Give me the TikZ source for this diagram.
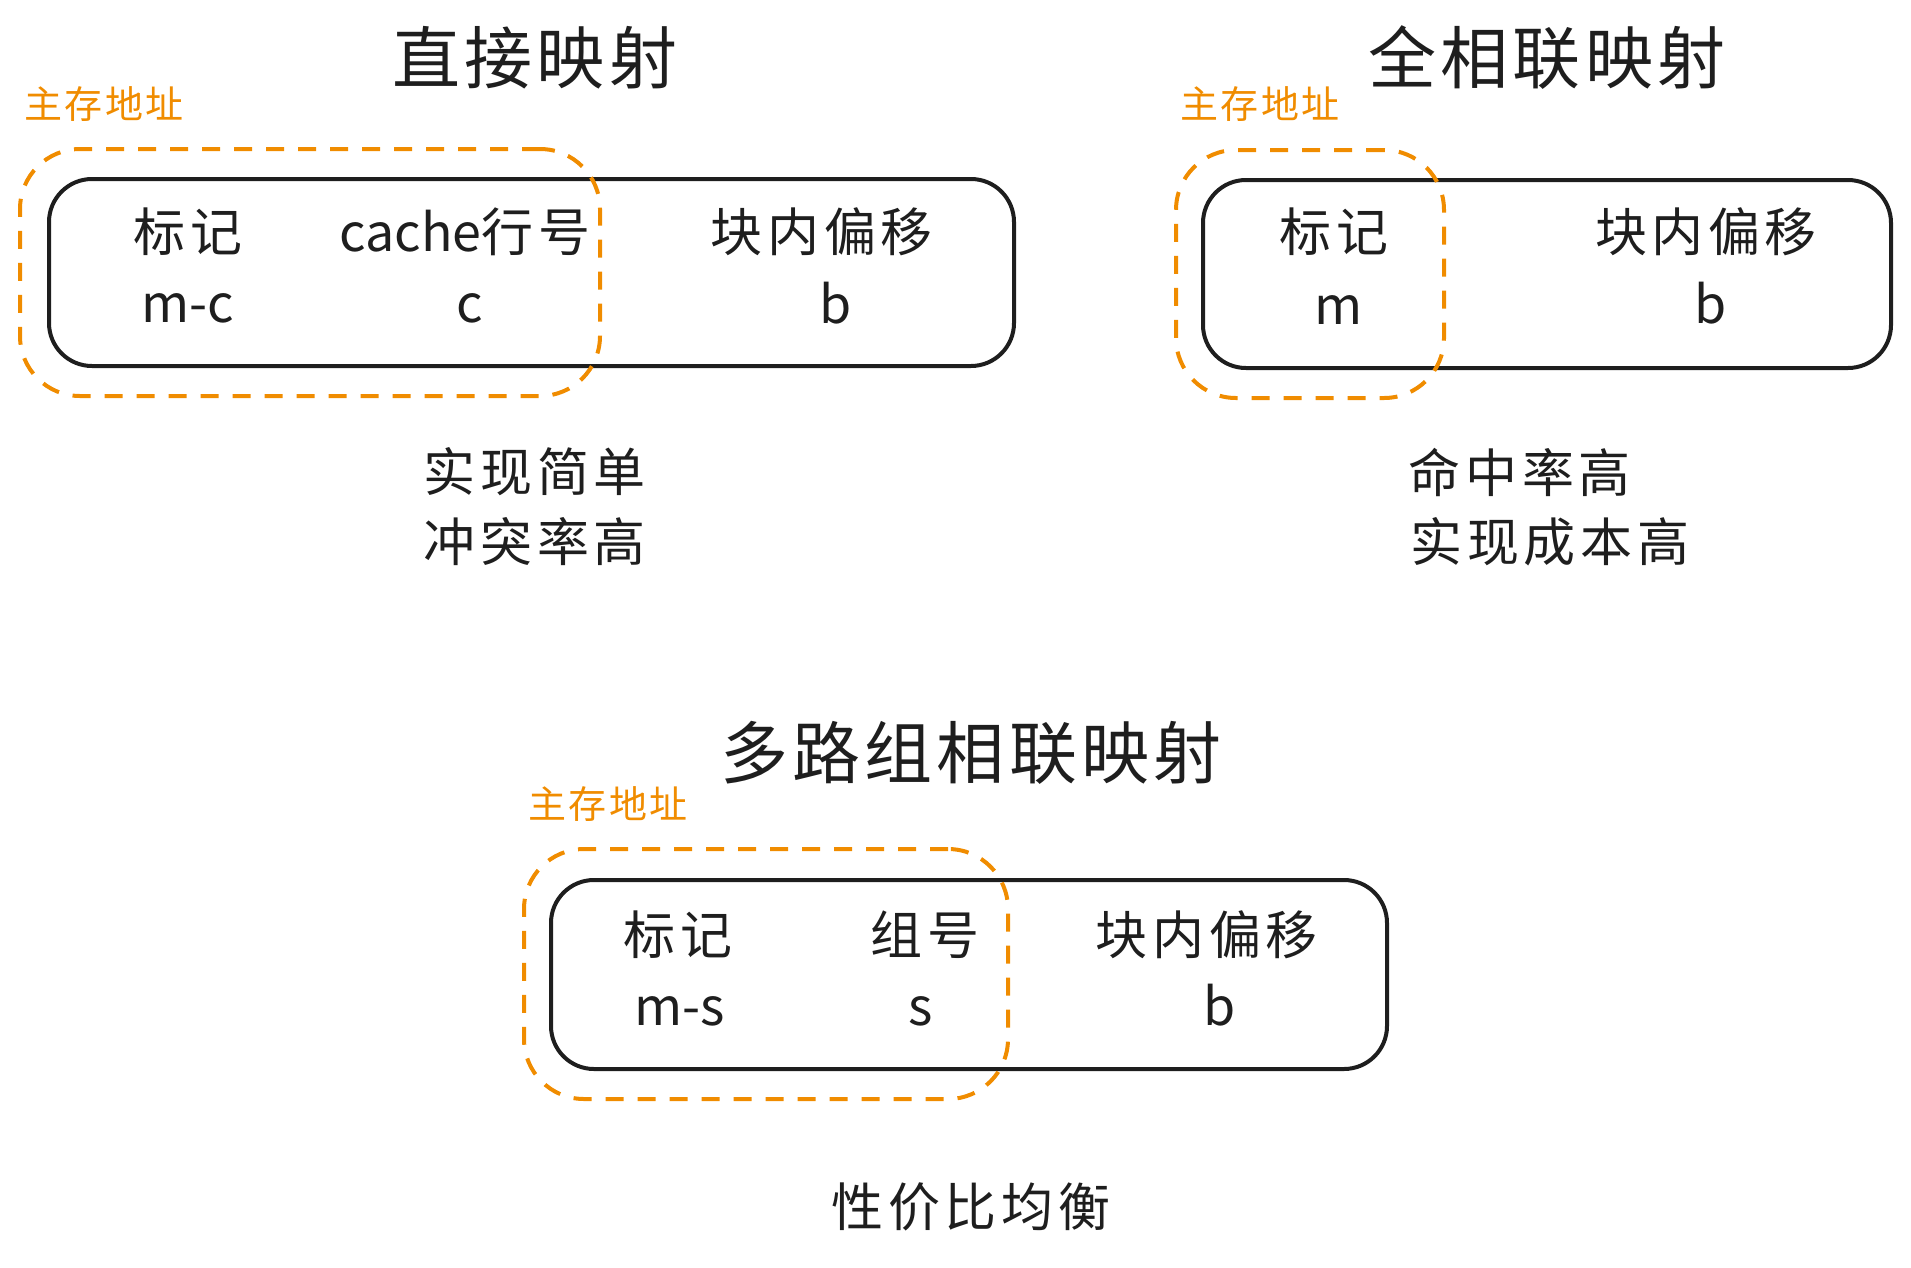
\documentclass[tikz,border=0pt]{standalone}
\usepackage{fontspec}
\setmainfont{Noto Sans CJK SC}
\newfontfamily\cjkspaced[LetterSpace=9]{Noto Sans CJK SC}
\newfontfamily\cjktitle[LetterSpace=6]{Noto Sans CJK SC}
\definecolor{exorange}{HTML}{F08C00}
\definecolor{exblack}{HTML}{1E1E1E}
\tikzset{
  title/.style={font=\cjktitle\fontsize{68}{72}\selectfont, text=exblack, inner sep=0pt},
  field/.style={font=\cjkspaced\fontsize{52}{56}\selectfont, text=exblack, inner sep=0pt},
  latin/.style={font=\fontsize{52}{56}\selectfont, text=exblack, inner sep=0pt},
  note/.style={font=\cjkspaced\fontsize{52}{56}\selectfont, text=exblack, inner sep=0pt},
  addr/.style={font=\cjktitle\fontsize{38}{42}\selectfont, text=exorange, inner sep=0pt},
  blackbox/.style={draw=exblack, line width=4pt, rounded corners=43pt, inner sep=0pt},
  orangebox/.style={draw=exorange, line width=4pt, dash pattern=on 18pt off 14pt, rounded corners=60pt, inner sep=0pt},
}
\begin{document}
\begin{tikzpicture}[x=1pt,y=-1pt]
\useasboundingbox (0,0) rectangle (1911,1267);
% ---------- direct mapping ----------
\node[title] (t1) at (535,58) {直接映射};
\node[addr] (a1) at (104,104) {主存地址};
\node[blackbox, minimum width=965pt, minimum height=187pt] (box1) at (531.5,272.5) {};
\node[orangebox, minimum width=580pt, minimum height=247pt] (or1) at (310,272.5) {};
\node[field] (f11) at (188,232) {标记};
\node[latin] (f12) at (465,232) {cache{\cjkspaced 行号}};
\node[field] (f13) at (822,232) {块内偏移};
\node[latin, anchor=base] (v11) at (188,322) {m-c};
\node[latin, anchor=base] (v12) at (470,322) {c};
\node[latin, anchor=base] (v13) at (836,323) {b};
\node[note] (n11) at (535,472) {实现简单};
\node[note] (n12) at (535,542) {冲突率高};
% ---------- fully associative ----------
\node[title] (t2) at (1547,58) {全相联映射};
\node[addr] (a2) at (1260,104) {主存地址};
\node[blackbox, minimum width=688pt, minimum height=188pt] (box2) at (1547,274) {};
\node[orangebox, minimum width=268pt, minimum height=248pt] (or2) at (1310,274) {};
\node[field] (f21) at (1334,232) {标记};
\node[field] (f22) at (1706,232) {块内偏移};
\node[latin, anchor=base] (v21) at (1339,324) {m};
\node[latin, anchor=base] (v22) at (1711,323) {b};
\node[note] (n21) at (1520,472) {命中率高};
\node[note] (n22) at (1550,542) {实现成本高};
% ---------- set associative ----------
\node[title] (t3) at (971,753) {多路组相联映射};
\node[addr] (a3) at (608,804) {主存地址};
\node[blackbox, minimum width=836pt, minimum height=189pt] (box3) at (969,974.5) {};
\node[orangebox, minimum width=484pt, minimum height=250pt] (or3) at (766,974) {};
\node[field] (f31) at (678,935) {标记};
\node[field] (f32) at (925,935) {组号};
\node[field] (f33) at (1207,935) {块内偏移};
\node[latin, anchor=base] (v31) at (680,1025) {m-s};
\node[latin, anchor=base] (v32) at (921,1025) {s};
\node[latin, anchor=base] (v33) at (1220,1025) {b};
\node[note] (n31) at (971,1207) {性价比均衡};
\end{tikzpicture}
\end{document}
